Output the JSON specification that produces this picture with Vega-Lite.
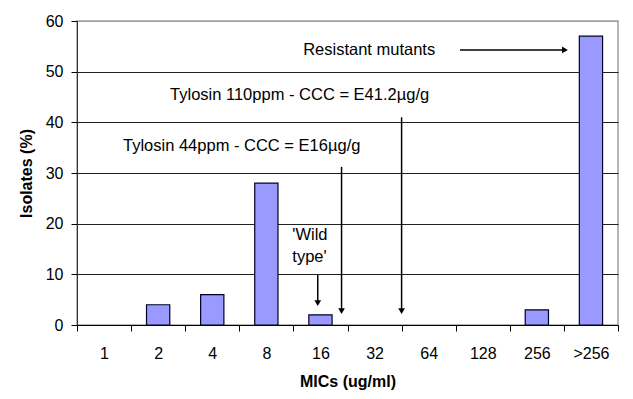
{
  "$schema": "https://vega.github.io/schema/vega-lite/v6.json",
  "width": 541,
  "height": 304,
  "autosize": {"type": "none"},
  "padding": {"left": 77, "top": 21, "right": 15, "bottom": 74},
  "background": "white",
  "config": {
    "font": "Liberation Sans",
    "view": {"stroke": "#a0a0a0", "strokeWidth": 1.5}
  },
  "layer": [
    {
      "data": {"values": [
        {"mic": "1", "pct": 0},
        {"mic": "2", "pct": 4},
        {"mic": "4", "pct": 6},
        {"mic": "8", "pct": 28},
        {"mic": "16", "pct": 2},
        {"mic": "32", "pct": 0},
        {"mic": "64", "pct": 0},
        {"mic": "128", "pct": 0},
        {"mic": "256", "pct": 3},
        {"mic": ">256", "pct": 57}
      ]},
      "mark": {"type": "bar", "width": {"band": 0.43}, "fill": "#9999ff", "stroke": "#000022", "strokeWidth": 1.2},
      "encoding": {
        "x": {
          "field": "mic", "type": "ordinal", "sort": null,
          "scale": {"domain": ["1","2","4","8","16","32","64","128","256",">256"], "paddingInner": 0, "paddingOuter": 0},
          "axis": {
            "title": "MICs (ug/ml)", "titleFontSize": 16, "titleFontWeight": "bold", "titleColor": "black", "titlePadding": 12,
            "labelAngle": 0, "labelFontSize": 16, "labelColor": "black", "labelPadding": 14,
            "tickBand": "extent", "tickSize": 6, "tickColor": "black", "domainColor": "black", "grid": false
          }
        },
        "y": {
          "field": "pct", "type": "quantitative",
          "scale": {"domain": [0, 60], "nice": false},
          "axis": {
            "title": "Isolates (%)", "titleFontSize": 16, "titleFontWeight": "bold", "titleColor": "black", "titlePadding": 11,
            "values": [0, 10, 20, 30, 40, 50, 60],
            "labelFontSize": 16, "labelColor": "black", "labelPadding": 8,
            "tickSize": 6, "tickColor": "black", "domainColor": "#333333",
            "grid": true,
            "gridColor": {"condition": {"test": "datum.value == 60", "value": "#a0a0a0"}, "value": "#222222"},
            "gridOpacity": 1
          }
        },
        "strokeOpacity": {"condition": {"test": "datum.pct == 0", "value": 0}, "value": 1}
      }
    },
    {
      "data": {"values": [{"from": "128", "to": ">256", "y": 54.3}]},
      "mark": {"type": "rule", "color": "black", "strokeWidth": 1.5},
      "encoding": {
        "x": {"field": "from", "type": "ordinal", "bandPosition": 0.08},
        "x2": {"field": "to", "bandPosition": 0.0},
        "y": {"field": "y", "type": "quantitative"}
      }
    },
    {
      "data": {"values": [{"at": ">256", "y": 54.3}]},
      "mark": {"type": "point", "shape": "triangle-right", "filled": true, "color": "black", "size": 45, "opacity": 1},
      "encoding": {
        "x": {"field": "at", "type": "ordinal", "bandPosition": 0.02},
        "y": {"field": "y", "type": "quantitative"}
      }
    },
    {
      "data": {"values": [{"at": "64", "top": 41.0, "tip": 2.75}]},
      "mark": {"type": "rule", "color": "black", "strokeWidth": 1.5},
      "encoding": {
        "x": {"field": "at", "type": "ordinal", "bandPosition": 0.0},
        "y": {"field": "top", "type": "quantitative"},
        "y2": {"field": "tip"}
      }
    },
    {
      "data": {"values": [{"at": "64", "tip": 2.75}]},
      "mark": {"type": "point", "shape": "triangle-down", "filled": true, "color": "black", "size": 45, "opacity": 1},
      "encoding": {
        "x": {"field": "at", "type": "ordinal", "bandPosition": 0.0},
        "y": {"field": "tip", "type": "quantitative"}
      }
    },
    {
      "data": {"values": [{"at": "16", "top": 31.2, "tip": 2.75}]},
      "mark": {"type": "rule", "color": "black", "strokeWidth": 1.5},
      "encoding": {
        "x": {"field": "at", "type": "ordinal", "bandPosition": 0.89},
        "y": {"field": "top", "type": "quantitative"},
        "y2": {"field": "tip"}
      }
    },
    {
      "data": {"values": [{"at": "16", "tip": 2.75}]},
      "mark": {"type": "point", "shape": "triangle-down", "filled": true, "color": "black", "size": 45, "opacity": 1},
      "encoding": {
        "x": {"field": "at", "type": "ordinal", "bandPosition": 0.89},
        "y": {"field": "tip", "type": "quantitative"}
      }
    },
    {
      "data": {"values": [{"at": "16", "top": 9.9, "tip": 4.3}]},
      "mark": {"type": "rule", "color": "black", "strokeWidth": 1.5},
      "encoding": {
        "x": {"field": "at", "type": "ordinal", "bandPosition": 0.45},
        "y": {"field": "top", "type": "quantitative"},
        "y2": {"field": "tip"}
      }
    },
    {
      "data": {"values": [{"at": "16", "tip": 4.3}]},
      "mark": {"type": "point", "shape": "triangle-down", "filled": true, "color": "black", "size": 45, "opacity": 1},
      "encoding": {
        "x": {"field": "at", "type": "ordinal", "bandPosition": 0.45},
        "y": {"field": "tip", "type": "quantitative"}
      }
    },
    {
      "data": {"values": [{"at": "16", "y": 54.3, "label": "Resistant mutants"}]},
      "mark": {"type": "text", "align": "left", "baseline": "middle", "fontSize": 16.5, "color": "black"},
      "encoding": {
        "x": {"field": "at", "type": "ordinal", "bandPosition": 0.18},
        "y": {"field": "y", "type": "quantitative"},
        "text": {"field": "label"}
      }
    },
    {
      "data": {"values": [{"at": "2", "y": 45.4, "label": "Tylosin 110ppm - CCC = E41.2µg/g"}]},
      "mark": {"type": "text", "align": "left", "baseline": "middle", "fontSize": 16.5, "color": "black"},
      "encoding": {
        "x": {"field": "at", "type": "ordinal", "bandPosition": 0.72},
        "y": {"field": "y", "type": "quantitative"},
        "text": {"field": "label"}
      }
    },
    {
      "data": {"values": [{"at": "1", "y": 35.4, "label": "Tylosin 44ppm - CCC = E16µg/g"}]},
      "mark": {"type": "text", "align": "left", "baseline": "middle", "fontSize": 16.5, "color": "black"},
      "encoding": {
        "x": {"field": "at", "type": "ordinal", "bandPosition": 0.85},
        "y": {"field": "y", "type": "quantitative"},
        "text": {"field": "label"}
      }
    },
    {
      "data": {"values": [
        {"at": "8", "y": 17.8, "label": "'Wild"},
        {"at": "8", "y": 13.4, "label": "type'"}
      ]},
      "mark": {"type": "text", "align": "left", "baseline": "middle", "fontSize": 16.5, "color": "black"},
      "encoding": {
        "x": {"field": "at", "type": "ordinal", "bandPosition": 0.98},
        "y": {"field": "y", "type": "quantitative"},
        "text": {"field": "label"}
      }
    }
  ]
}
